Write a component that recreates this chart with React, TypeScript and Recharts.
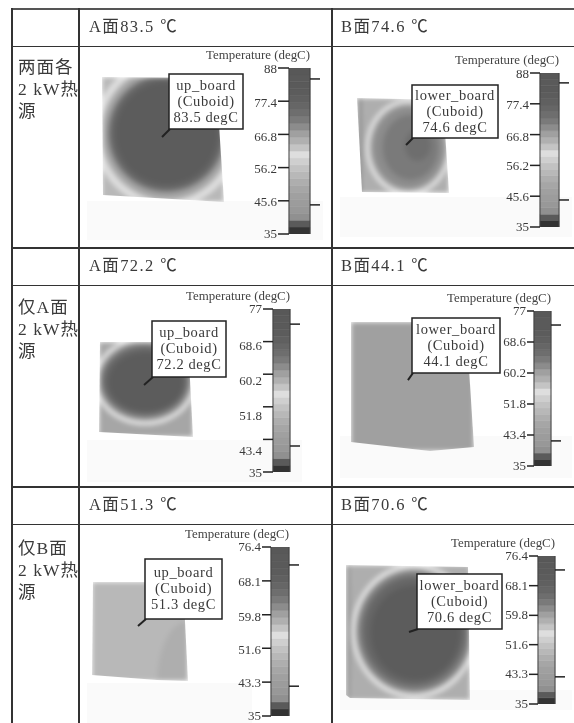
import React from 'react';
import { Bar, BarChart, Scatter, ScatterChart, XAxis, YAxis } from 'recharts';

const serif = '"Liberation Serif", "Noto Sans CJK SC", serif';
const ink = '#3a3a3a';

// colour bar bands, bottom to top
const bandGrays = [
  '#333333', '#5a5a5a', '#909090', '#989898', '#9c9c9c', '#a0a0a0', '#a6a6a6', '#aeaeae',
  '#b8b8b8', '#c2c2c2', '#cfcfcf', '#dedede', '#c4c4c4', '#b0b0b0', '#a0a0a0', '#8c8c8c',
  '#7a7a7a', '#6e6e6e', '#666666', '#606060', '#5c5c5c', '#5a5a5a', '#5a5a5a', '#585858',
];

const headerA = ['A面83.5 ℃', 'A面72.2 ℃', 'A面51.3 ℃'];
const headerB = ['B面74.6 ℃', 'B面44.1 ℃', 'B面70.6 ℃'];
const rowNames = [
  ['两面各', '2 kW热', '源'],
  ['仅A面', '2 kW热', '源'],
  ['仅B面', '2 kW热', '源'],
];

const ticks88 = [35, 45.6, 56.2, 66.8, 77.4, 88];
const ticks77 = [35, 43.4, 51.8, 60.2, 68.6, 77];
const ticks76 = [35, 43.3, 51.6, 59.8, 68.1, 76.4];

// isotherms: [u %, v %, radius u %, radius v %, degC]
const contoursA1 = [
  [50, 50, 200, 200, 54],
  [53, 45, 60, 60, 60.5],
  [53, 45, 54, 54, 64],
  [53, 45, 51, 51, 68],
  [53, 45, 48, 47, 71],
  [53, 45, 46, 45, 75],
  [53, 45, 42, 41, 80],
];
const contoursB1 = [
  [50, 50, 200, 200, 51],
  [56, 52, 47, 51, 60.5],
  [56, 52, 42, 46, 66],
  [56, 52, 38, 42, 69],
  [58, 52, 30, 34, 71.5],
  [66, 50, 14, 16, 74],
  [-50, 50, 55, 300, 69],
];
const contoursA2 = [
  [50, 50, 200, 200, 47],
  [49, 41, 55, 47, 55],
  [49, 41, 50, 42, 60],
  [49, 41, 48, 40, 62.5],
  [49, 41, 46, 38, 64.5],
  [49, 41, 44, 35, 67.5],
  [50, 42, 40, 31, 71],
];
const contoursB2 = [[50, 50, 200, 200, 44]];
const contoursA3 = [
  [50, 50, 200, 200, 49.5],
  [100, 100, 32, 60, 47.5],
];
const contoursB3 = [
  [50, 50, 200, 200, 48],
  [55, 49, 51, 50, 54.8],
  [55, 49, 47, 46, 60],
  [55, 49, 46, 45, 62],
  [55, 49, 44, 43, 63.5],
  [55, 49, 41, 40, 67],
  [56, 50, 36, 35, 70.5],
  [-50, 50, 53, 300, 62],
];

const panels = [
  {
    title: 'up_board', temp: '83.5 degC', contours: contoursA1, ticks: ticks88, marks: [44.3, 84.5], spot: [49.2, 48],
    board: [[102, 77], [216, 78], [224, 202], [103, 195]], box: [169, 74, 74, 55],
    bar: [289, 68, 21, 166], tickLen: 11, labelDy: [0, 1, 1, 3, 2, 1], faint: [87, 201, 236, 39],
  },
  {
    title: 'lower_board', temp: '74.6 degC', contours: contoursB1, ticks: ticks88, marks: [44.3, 84.6], spot: [53.3, 49.5],
    board: [[357, 98], [443, 100], [449, 193], [362, 192]], box: [412, 85, 86, 53],
    bar: [540, 73, 19, 154], tickLen: 10, labelDy: [0, 1, 1, 2, 1, 1], faint: [340, 197, 232, 40],
  },
  {
    title: 'up_board', temp: '72.2 degC', contours: contoursA2, ticks: ticks77, marks: [41.7, 73.1], spot: [47.9, 45.3],
    board: [[100, 342], [188, 342], [193, 437], [99, 432]], box: [152, 321, 74, 56],
    bar: [273, 309, 17, 163], tickLen: 10, labelDy: [1, 12, 9, 7, 4, 0], faint: [87, 440, 215, 42],
  },
  {
    title: 'lower_board', temp: '44.1 degC', contours: contoursB2, ticks: ticks77, marks: [41.8, 73.2], spot: [46.3, 45],
    board: [[351, 322], [466, 322], [474, 447], [430, 451], [351, 442]], box: [412, 318, 88, 55],
    bar: [534, 311, 17, 155], tickLen: 7, labelDy: [0, 0, 0, 0, 0, 0], faint: [340, 436, 232, 42],
  },
  {
    title: 'up_board', temp: '51.3 degC', contours: contoursA3, ticks: ticks76, marks: [42.3, 72], spot: [47.9, 44.4],
    board: [[93, 582], [183, 582], [188, 681], [157, 680], [92, 675]], box: [145, 559, 77, 60],
    bar: [271, 547, 18, 169], tickLen: 9, labelDy: [0, 1, 2, 2, 1, 0], faint: [87, 683, 165, 40],
  },
  {
    title: 'lower_board', temp: '70.6 degC', contours: contoursB3, ticks: ticks76, marks: [42.6, 72.5], spot: [50.8, 49.6],
    board: [[346, 565], [468, 567], [470, 700], [350, 698], [346, 695]], box: [417, 574, 85, 55],
    bar: [538, 556, 17, 148], tickLen: 9, labelDy: [0, 0, 0, 0, 0, 0], faint: [340, 690, 232, 20],
  },
];

const ruleH = [
  { y: 8, x: 11, w: 563, h: 2, c: '#555' },
  { y: 46, x: 11, w: 563, h: 1, c: '#333' },
  { y: 247, x: 11, w: 563, h: 2, c: '#333' },
  { y: 285, x: 11, w: 563, h: 1, c: '#333' },
  { y: 486, x: 11, w: 563, h: 2, c: '#333' },
  { y: 524, x: 11, w: 563, h: 1, c: '#333' },
];
const ruleV = [11, 78, 331];

function grayFor(t: number, lo: number, hi: number) {
  const i = Math.floor(((t - lo) / (hi - lo)) * bandGrays.length);
  return bandGrays[Math.max(0, Math.min(bandGrays.length - 1, i))];
}

function boxOf(p: (typeof panels)[number]) {
  const xs = p.board.map((q) => q[0]);
  const ys = p.board.map((q) => q[1]);
  const left = Math.min(...xs);
  const top = Math.min(...ys);
  return { left, top, w: Math.max(...xs) - left, h: Math.max(...ys) - top };
}

function HeatField({ p }: { p: (typeof panels)[number] }) {
  const { left, top, w, h } = boxOf(p);
  const lo = p.ticks[0];
  const hi = p.ticks[p.ticks.length - 1];
  const rings = p.contours.map(([u, v, ru, rv, t]) => ({ u, v, ru, rv, t }));
  const clip = p.board.map((q) => `${q[0] - left}px ${q[1] - top}px`).join(', ');

  return (
    <div style={{ position: 'absolute', left, top, width: w, height: h, clipPath: `polygon(${clip})` }}>
      <div style={{ filter: 'blur(2.4px)', width: w, height: h }}>
        <ScatterChart width={w} height={h} margin={{ top: 0, right: 0, bottom: 0, left: 0 }}>
          <XAxis type="number" dataKey="u" domain={[0, 100]} allowDataOverflow hide />
          <YAxis type="number" dataKey="v" domain={[0, 100]} allowDataOverflow reversed hide />
          <Scatter
            data={rings}
            isAnimationActive={false}
            shape={(s: any) => (
              <ellipse
                cx={s.cx}
                cy={s.cy}
                rx={(s.payload.ru * w) / 100}
                ry={(s.payload.rv * h) / 100}
                fill={grayFor(s.payload.t, lo, hi)}
              />
            )}
          />
        </ScatterChart>
      </div>
    </div>
  );
}

function Callout({ p }: { p: (typeof panels)[number] }) {
  const { left, top, w, h } = boxOf(p);
  const pad = 30;
  const padR = 100;
  const [bx, by, bw, bh] = p.box;
  const lines = [p.title, '(Cuboid)', p.temp];

  return (
    <div style={{ position: 'absolute', left: left - pad, top: top - pad }}>
      <ScatterChart
        width={w + pad + padR}
        height={h + 2 * pad}
        margin={{ top: pad, right: padR, bottom: pad, left: pad }}
      >
        <XAxis type="number" dataKey="u" domain={[0, 100]} hide />
        <YAxis type="number" dataKey="v" domain={[0, 100]} reversed hide />
        <Scatter
          data={[{ u: p.spot[0], v: p.spot[1] }]}
          isAnimationActive={false}
          shape={(s: any) => {
            const ox = bx - (left - pad);
            const oy = by - (top - pad);
            return (
              <g>
                <line x1={s.cx} y1={s.cy} x2={ox + 1} y2={oy + bh} stroke="#222" strokeWidth={2} />
                <rect x={ox} y={oy} width={bw} height={bh} fill="#fff" stroke="#222" strokeWidth={1.5} />
                {lines.map((t, i) => (
                  <text
                    key={i}
                    x={ox + bw / 2}
                    y={oy + bh / 2 + (i - 1) * 16 + 4}
                    textAnchor="middle"
                    fontFamily={serif}
                    fontSize={14.5}
                    letterSpacing={0.6}
                    fill={ink}
                  >
                    {t}
                  </text>
                ))}
              </g>
            );
          }}
        />
      </ScatterChart>
    </div>
  );
}

function ColorBar({ p }: { p: (typeof panels)[number] }) {
  const [bx, by, bw, bh] = p.bar;
  const axisW = 110;
  const rightW = 12;
  const topM = 20;
  const botM = 8;
  const lo = p.ticks[0];
  const hi = p.ticks[p.ticks.length - 1];
  const step = (hi - lo) / bandGrays.length;
  const row: Record<string, number | string> = { name: 'scale' };
  bandGrays.forEach((_, i) => {
    row[`b${i}`] = i === 0 ? lo + step : step;
  });

  return (
    <div style={{ position: 'absolute', left: bx - axisW, top: by - topM }}>
      <BarChart
        width={axisW + bw + rightW}
        height={bh + topM + botM}
        data={[row]}
        margin={{ top: topM, right: 0, bottom: botM, left: 0 }}
        barCategoryGap={0}
      >
        <XAxis dataKey="name" hide />
        <YAxis
          yAxisId="temp"
          type="number"
          domain={[lo, hi]}
          ticks={p.ticks}
          interval={0}
          allowDataOverflow
          width={axisW}
          tickSize={p.tickLen}
          tickMargin={1}
          axisLine={{ stroke: '#444' }}
          tickLine={{ stroke: '#222', strokeWidth: 1.5 }}
          tick={(t: any) => (
            <text
              x={t.x}
              y={t.y + 4 + p.labelDy[t.index]}
              textAnchor="end"
              fontFamily={serif}
              fontSize={13}
              fill={ink}
            >
              {t.payload.value}
            </text>
          )}
        />
        <YAxis
          yAxisId="marks"
          orientation="right"
          type="number"
          domain={[lo, hi]}
          ticks={p.marks}
          interval={0}
          allowDataOverflow
          width={rightW}
          tickSize={10}
          axisLine={{ stroke: '#444' }}
          tickLine={{ stroke: '#222', strokeWidth: 1.5 }}
          tick={() => <g />}
        />
        {bandGrays.map((g, i) => (
          <Bar key={i} yAxisId="temp" dataKey={`b${i}`} stackId="scale" fill={g} stroke={g} strokeWidth={0.6} isAnimationActive={false} />
        ))}
        <text x={axisW + bw} y={11} textAnchor="end" fontFamily={serif} fontSize={12.9} fill="#444">
          Temperature (degC)
        </text>
      </BarChart>
    </div>
  );
}

function Table() {
  const headerY = [15, 254, 493];
  const labelY = [56, 296, 537];
  return (
    <>
      {ruleH.map((r, i) => (
        <div key={i} style={{ position: 'absolute', left: r.x, top: r.y, width: r.w, height: r.h, background: r.c }} />
      ))}
      {ruleV.map((x, i) => (
        <div key={i} style={{ position: 'absolute', left: x, top: 8, width: 1.5, height: 715, background: '#333' }} />
      ))}
      {headerY.map((y, i) => (
        <React.Fragment key={i}>
          {[headerA[i], headerB[i]].map((t, k) => (
            <div
              key={t}
              style={{
                position: 'absolute', left: k === 0 ? 89 : 341, top: y, fontFamily: serif,
                fontSize: 16.5, letterSpacing: 1.4, color: ink, lineHeight: '24px', whiteSpace: 'nowrap',
              }}
            >
              {t}
            </div>
          ))}
        </React.Fragment>
      ))}
      {rowNames.map((lines, i) =>
        lines.map((t, k) => (
          <div
            key={k}
            style={{
              position: 'absolute', left: 18, top: labelY[i] + k * 22, fontFamily: serif, fontSize: 17.5,
              letterSpacing: 1, color: ink, lineHeight: '22px', whiteSpace: 'nowrap',
            }}
          >
            {t}
          </div>
        )),
      )}
    </>
  );
}

export default function App() {
  return (
    <div
      style={{
        position: 'absolute', left: 0, top: 0, width: 574, height: 723, overflow: 'hidden',
        background: '#fff', filter: 'blur(0.45px)',
      }}
    >
      {panels.map((p, i) => (
        <div
          key={`f${i}`}
          style={{ position: 'absolute', left: p.faint[0], top: p.faint[1], width: p.faint[2], height: p.faint[3], background: '#fafafa' }}
        />
      ))}
      <Table />
      {panels.map((p, i) => (
        <React.Fragment key={i}>
          <HeatField p={p} />
          <ColorBar p={p} />
          <Callout p={p} />
        </React.Fragment>
      ))}
    </div>
  );
}
